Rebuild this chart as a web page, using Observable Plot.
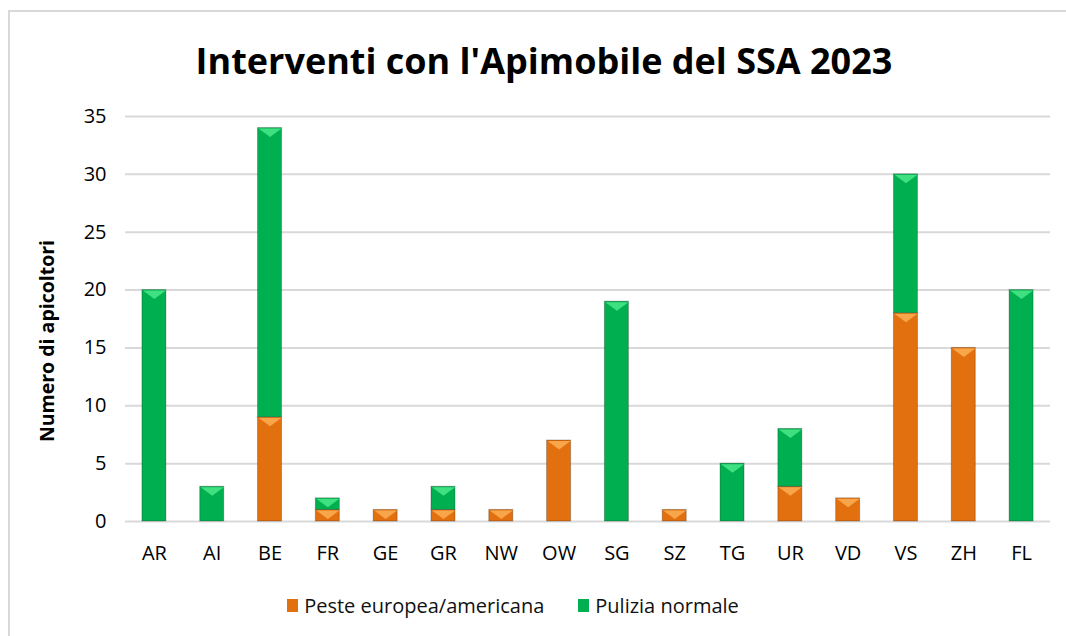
<!DOCTYPE html>
<html><head><meta charset="utf-8">
<script src="https://cdn.jsdelivr.net/npm/d3@7"></script>
<script src="https://cdn.jsdelivr.net/npm/@observablehq/plot@0.6"></script>
<style>
html,body{margin:0;padding:0;background:#fff;width:1066px;height:636px;overflow:hidden;font-family:"Open Sans",sans-serif;}
#frame{position:absolute;left:8px;top:10px;width:1070px;height:640px;border:2px solid #d9d9d9;box-sizing:border-box;}
#title{position:absolute;left:0;top:37px;width:1088px;text-align:center;font-weight:bold;font-size:36px;line-height:48px;color:#000;}
#chart{position:absolute;left:0;top:0;}
#chart svg g[aria-label="x-axis tick label"], #chart svg g[aria-label="y-axis tick label"]{font-size:20px;}
#legend{position:absolute;top:592px;left:0;width:1026px;display:flex;justify-content:center;gap:34px;font-size:20px;color:#111;box-sizing:border-box;}
#legend .item{display:flex;align-items:center;gap:6px;}
#legend .sw{width:11px;height:13px;display:inline-block;}
</style></head>
<body>
<div id="frame"></div>
<div id="chart"></div>
<div id="title">Interventi con l'Apimobile del SSA 2023</div>
<div id="legend"></div>
<script>
const categories = ["AR","AI","BE","FR","GE","GR","NW","OW","SG","SZ","TG","UR","VD","VS","ZH","FL"];
const series = ["Peste europea/americana","Pulizia normale"];
const peste   = [0,0,9,1,1,1,1,7,0,1,0,3,2,18,15,0];
const pulizia = [20,3,25,1,0,2,0,0,19,0,5,5,0,12,0,20];
const yTicks = [0,5,10,15,20,25,30,35];
const colors = ["#E3700F","#00B050"];
const lightColors = ["#F9A54A","#3EE07F"];

const data = [];
categories.forEach((c,i)=>{
  data.push({cat:c, serie:series[0], value:peste[i]});
  data.push({cat:c, serie:series[1], value:pulizia[i]});
});
const nz = data.filter(d=>d.value>0);

const bevel = {draw(ctx){ctx.moveTo(-11.5,-4.5);ctx.lineTo(11.5,-4.5);ctx.lineTo(0,4);ctx.closePath();}};

const plot = Plot.plot({
  width:1066, height:636,
  marginTop:116, marginBottom:115, marginLeft:125, marginRight:16,
  style:{fontFamily:"'Open Sans',sans-serif", color:"#000", background:"transparent"},
  x:{domain:categories, paddingInner:0.585, paddingOuter:0.2925, round:false, label:null},
  y:{domain:[0,35], label:null},
  color:{domain:series, range:colors},
  marks:[
    Plot.gridY(yTicks,{stroke:"#d9d9d9", strokeOpacity:1, strokeWidth:2}),
    Plot.axisX({tickSize:0, tickPadding:24, label:null}),
    Plot.axisY(yTicks,{tickSize:0, tickPadding:19, label:null}),
    Plot.barY(nz, Plot.stackY({x:"cat", y:"value", fill:"serie", order:series, stroke:"#000", strokeOpacity:0.25, strokeWidth:1})),
    Plot.dot(nz, Plot.stackY2({x:"cat", y:"value", order:series, symbol:()=>bevel, fill:d=>d.serie===series[0]?lightColors[0]:lightColors[1], r:4, dy:5, stroke:"none"})),
    Plot.text(["Numero di apicoltori"],{frameAnchor:"left", textAnchor:"middle", dx:-78, dy:22, rotate:-90, fontWeight:"bold", fontSize:19.5})
  ]
});
document.getElementById("chart").appendChild(plot);

const leg = document.getElementById("legend");
series.forEach((s,i)=>{
  const it=document.createElement("div");it.className="item";
  const sw=document.createElement("span");sw.className="sw";sw.style.background=colors[i];
  const t=document.createElement("span");t.textContent=s;
  it.appendChild(sw);it.appendChild(t);leg.appendChild(it);
});
</script>
</body></html>
